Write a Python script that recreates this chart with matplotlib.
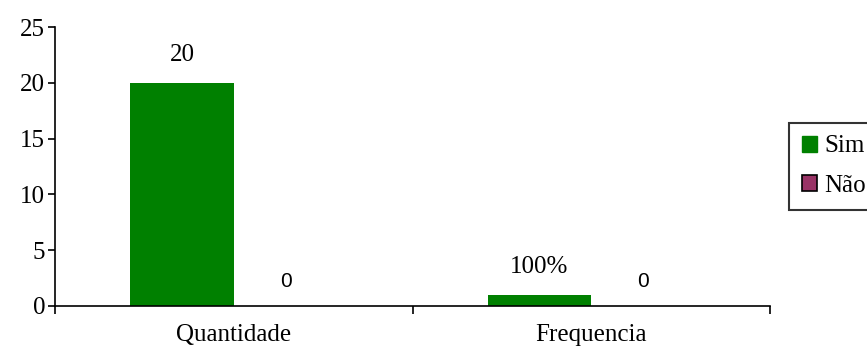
import numpy as np
import matplotlib
matplotlib.use("Agg")
import matplotlib.pyplot as plt
from matplotlib.patches import Patch

categories = ["Quantidade", "Frequencia"]
sim_values = [20, 1]
nao_values = [0, 0]
sim_labels = ["20", "100%"]
nao_labels = ["0", "0"]
series_names = ["Sim", "Não"]

serif = ["Liberation Serif", "DejaVu Serif"]
sans = ["Liberation Sans", "DejaVu Sans"]
fs = 18

fig = plt.figure(figsize=(8.67, 3.56), dpi=100)
ax = fig.add_axes([55 / 867, 50 / 356, 715 / 867, 279 / 356])

x = np.arange(len(categories)) + 0.5
w = 0.29
b1 = ax.bar(x - w / 2, sim_values, w, color="#008000", label=series_names[0])
b2 = ax.bar(x + w / 2, nao_values, w, color="#993366", linewidth=0,
            label=series_names[1])

for rect, lab in zip(b1, sim_labels):
    ax.annotate(lab, (rect.get_x() + rect.get_width() / 2, rect.get_height()),
                xytext=(0, 12), textcoords="offset points", ha="center",
                va="bottom", fontsize=fs, family=serif)
for rect, lab in zip(b2, nao_labels):
    ax.annotate(lab, (rect.get_x() + rect.get_width() / 2, rect.get_height()),
                xytext=(0, 11), textcoords="offset points", ha="center",
                va="bottom", fontsize=15, family=sans)

ax.set_xlim(0, len(categories))
ax.set_ylim(0, 25)
ax.set_yticks([0, 5, 10, 15, 20, 25])
ax.set_xticks([0, 1, 2])
ax.set_xticklabels([])
ax.set_xticks(x, minor=True)
ax.set_xticklabels(categories, minor=True)
ax.tick_params(axis="x", which="minor", length=0, pad=13)
ax.tick_params(axis="x", which="major", length=6, width=1.2, direction="out")
ax.tick_params(axis="y", length=5, width=1.2, direction="out", pad=2)
for t in ax.get_yticklabels() + ax.get_xticklabels(minor=True):
    t.set_family(serif)
    t.set_fontsize(fs)

ax.spines["top"].set_visible(False)
ax.spines["right"].set_visible(False)
ax.spines["left"].set_linewidth(1.2)
ax.spines["bottom"].set_linewidth(1.2)

handles = [Patch(facecolor="#008000", edgecolor="#008000"),
           Patch(facecolor="#993366", edgecolor="black", linewidth=1.2)]
leg = fig.legend(handles, series_names, loc="upper left",
                 bbox_to_anchor=(789 / 867, 1 - 123 / 356),
                 prop={"family": serif, "size": fs}, frameon=True,
                 fancybox=False, edgecolor="black", handlelength=0.6,
                 handleheight=0.6, handletextpad=0.3, labelspacing=0.7,
                 borderpad=0.5, borderaxespad=0)
leg.get_frame().set_linewidth(1.5)

fig.savefig("out.png", dpi=100)
